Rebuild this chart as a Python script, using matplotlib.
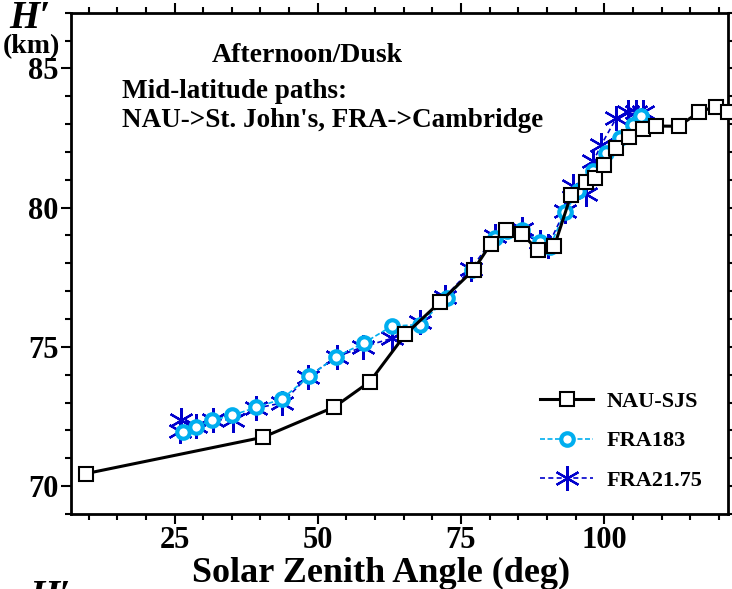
import numpy as np
import matplotlib.pyplot as plt
from matplotlib.ticker import MultipleLocator

plt.rcParams['font.family'] = ['Liberation Serif', 'DejaVu Serif']
plt.rcParams['font.weight'] = 'bold'

# NAU -> St. John's
sza_nau = [9.6, 40.4, 52.9, 59.1, 65.3, 71.3, 77.2, 80.2, 82.9, 85.7, 88.4, 91.3,
           94.2, 96.8, 98.4, 100.0, 102.1, 104.4, 106.7, 109.0, 113.0, 116.6, 119.5, 121.6]
h_nau = [70.45, 71.75, 72.84, 73.75, 75.45, 76.6, 77.76, 78.7, 79.19, 79.06, 78.46, 78.62,
         80.45, 80.92, 81.05, 81.54, 82.13, 82.53, 82.83, 82.93, 82.92, 83.44, 83.63, 83.44]

# FRA 18.3 kHz
sza_183 = [26.5, 28.7, 31.5, 35.1, 39.3, 43.7, 48.5, 53.2, 58.0, 62.9, 67.8, 72.5,
           76.9, 80.9, 83.0, 85.6, 88.8, 90.5, 93.2, 95.5, 98.0, 100.3, 102.8, 105.0, 106.5]
h_183 = [71.94, 72.13, 72.36, 72.54, 72.83, 73.12, 73.94, 74.64, 75.13, 75.74, 75.8, 76.75,
         77.75, 78.9, 79.15, 79.2, 78.75, 78.6, 79.85, 80.6, 81.3, 81.95, 82.5, 82.95, 83.3]

# FRA 21.75 kHz
sza_2175 = [25.9, 26.2, 28.8, 31.7, 35.2, 39.3, 43.7, 48.3, 53.3, 57.9, 62.9, 67.8, 72.2,
            76.8, 80.9, 85.6, 88.8, 90.2, 93.1, 94.6, 96.9, 98.1, 99.5, 102.1, 104.2, 105.6, 106.8]
h_2175 = [71.96, 72.38, 72.14, 72.38, 72.38, 72.8, 72.98, 73.93, 74.64, 75.0, 75.3, 75.89, 76.79,
          77.8, 78.99, 79.22, 78.75, 78.63, 79.88, 80.77, 80.48, 81.67, 82.26, 83.21, 83.45, 83.45, 83.45]

fig = plt.figure(figsize=(7.32, 5.89), dpi=100)
ax = fig.add_axes([0.0975, 0.1275, 0.897, 0.851])

ax.plot(sza_nau, h_nau, color='black', lw=2.2, marker='s', ms=10,
        mfc='white', mec='black', mew=1.5, label='NAU-SJS', zorder=4, clip_on=False)
ax.plot(sza_183, h_183, color='#00AEEF', lw=1.2, ls=(0, (3, 1.5)), marker='o', ms=9,
        mfc='white', mec='#00AEEF', mew=3, label='FRA183', zorder=3)
ax.plot(sza_2175, h_2175, color='#0000CC', lw=1.2, ls=(0, (3, 2)), marker=(6, 2, 0), ms=18,
        mec='#0000CC', mew=1.6, label='FRA21.75', zorder=2)

ax.set_xlim(7, 121.6)
ax.set_ylim(69, 87)
ax.xaxis.set_major_locator(MultipleLocator(25))
ax.xaxis.set_minor_locator(MultipleLocator(5))
ax.yaxis.set_major_locator(MultipleLocator(5))
ax.yaxis.set_minor_locator(MultipleLocator(1))
ax.tick_params(which='both', direction='out', top=True, right=True, width=1.5,
               labelsize=22, pad=2)
ax.tick_params(which='major', length=7)
ax.tick_params(which='minor', length=4)
for s in ax.spines.values():
    s.set_linewidth(2)

ax.set_xlabel('Solar Zenith Angle (deg)', fontsize=26, fontweight='bold')
ax.xaxis.set_label_coords(0.471, -0.085)

# axis title in the corner, and the top of the next panel's one below
fig.text(0.012, 0.952, "H′", fontsize=28, style='italic', va='baseline', ha='left')
fig.text(0.004, 0.942, "(km)", fontsize=20, va='top', ha='left')
fig.text(0.040, -0.046, "H′", fontsize=28, style='italic', va='bottom', ha='left')

ax.text(0.3586, 0.914, 'Afternoon/Dusk', transform=ax.transAxes, fontsize=20,
        ha='center', va='center')
ax.text(0.0767, 0.842, 'Mid-latitude paths:', transform=ax.transAxes, fontsize=19.5,
        va='center')
ax.text(0.0767, 0.784, "NAU->St. John's, FRA->Cambridge", transform=ax.transAxes,
        fontsize=19.5, va='center')

ax.legend(loc='lower right', bbox_to_anchor=(0.985, 0.015), frameon=False, fontsize=16,
          handlelength=2.4, handletextpad=0.6, labelspacing=0.85, borderaxespad=0.3)

fig.savefig('out.png', dpi=100)
